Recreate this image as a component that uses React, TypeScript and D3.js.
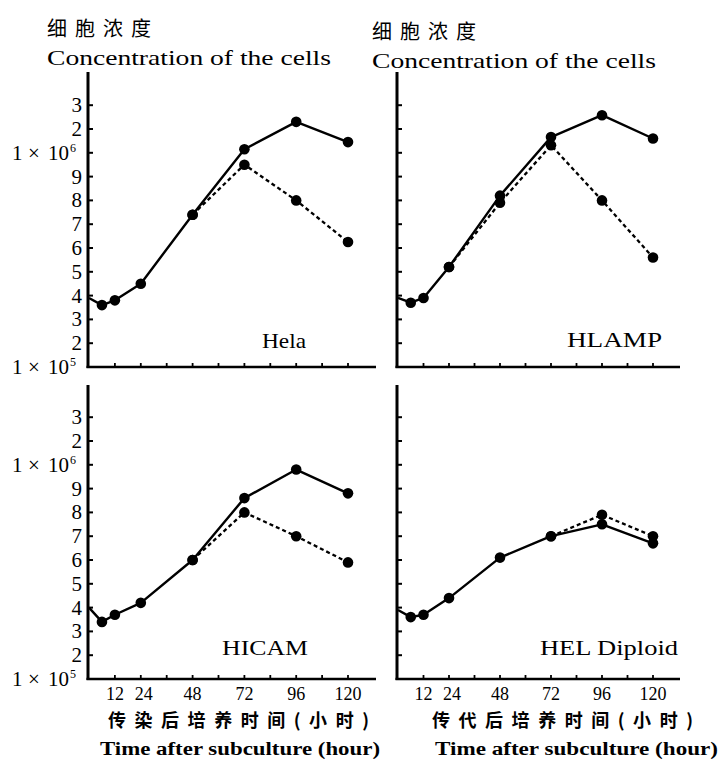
import React, { useEffect, useRef } from "react";
import * as d3 from "d3";

// sampling times, hours after subculture
const hours = [0, 6, 12, 24, 48, 72, 96, 120];

// cell concentration (solid curve, dashed curve; null = dashed runs with solid)
const helaSolid = [3.9e5, 3.6e5, 3.8e5, 4.5e5, 7.4e5, 1.15e6, 2.3e6, 1.45e6];
const helaDashed = [null, null, null, null, 7.4e5, 9.5e5, 8.0e5, 6.25e5];
const hlampSolid = [3.9e5, 3.7e5, 3.9e5, 5.2e5, 8.2e5, 1.66e6, 2.58e6, 1.6e6];
const hlampDashed = [null, null, null, 5.2e5, 7.9e5, 1.32e6, 8.0e5, 5.6e5];
const hicamSolid = [4.0e5, 3.4e5, 3.7e5, 4.2e5, 6.0e5, 8.6e5, 9.8e5, 8.8e5];
const hicamDashed = [null, null, null, null, 6.0e5, 8.0e5, 7.0e5, 5.9e5];
const helSolid = [3.9e5, 3.6e5, 3.7e5, 4.4e5, 6.1e5, 7.0e5, 7.5e5, 6.7e5];
const helDashed = [null, null, null, null, null, 7.0e5, 7.9e5, 7.0e5];

const panelNames = ["Hela", "HLAMP", "HICAM", "HEL Diploid"];

// the printed y axis has evenly spaced ticks
const yTicks = [1e5, 2e5, 3e5, 4e5, 5e5, 6e5, 7e5, 8e5, 9e5, 1e6, 2e6, 3e6];
const yTickLabels = ["1 × 10|5", "2", "3", "4", "5", "6", "7", "8", "9", "1 × 10|6", "2", "3"];

const xTicks = [12, 24, 36, 48, 60, 72, 84, 96, 108, 120];
const xTickLabels = [12, 24, 48, 72, 96, 120];

const yTitleCn = "细胞浓度";
const yTitleEn = "Concentration of the cells";
const xTitleCn = ["传染后培养时间(小时)", "传代后培养时间(小时)"];
const xTitleEn = "Time after subculture (hour)";

const W = 721;
const H = 760;
const serif = "'Liberation Serif', 'Times New Roman', serif";
const cjk = "'Noto Sans CJK SC', sans-serif";

const App = () => {
  const svgRef = useRef(null);

  useEffect(() => {
    const svg = d3.select(svgRef.current);
    svg.selectAll("*").remove();

    const solid = [helaSolid, hlampSolid, hicamSolid, helSolid];
    const dashed = [helaDashed, hlampDashed, hicamDashed, helDashed];

    // layout of the 2 x 2 grid
    const colRange = [
      [89, 348],
      [398, 653],
    ];
    const colAxisEnd = [376, 680];
    const rowBottom = [367, 679];
    const rowTop = [72, 385];
    const step = 23.8;
    const labelPos = [
      { x: 262, y: 348, w: 44 },
      { x: 567, y: 347, w: 95 },
      { x: 222, y: 655, w: 86 },
      { x: 540, y: 655, w: 138 },
    ];

    const yIndex = d3
      .scaleLinear()
      .domain(yTicks)
      .range(d3.range(yTicks.length));

    panelNames.forEach((name, p) => {
      const col = p % 2;
      const row = Math.floor(p / 2);

      const xScale = d3.scaleLinear().domain([0, 120]).range(colRange[col]);
      const yPos = d3
        .scaleLinear()
        .domain([0, yTicks.length - 1])
        .range([rowBottom[row], rowBottom[row] - step * (yTicks.length - 1)]);
      const yScale = (v) => yPos(yIndex(v));

      const g = svg.append("g");
      const x0 = xScale(0) - 1;

      // y axis line + inward ticks
      g.append("line")
        .attr("x1", x0)
        .attr("x2", x0)
        .attr("y1", rowTop[row])
        .attr("y2", rowBottom[row] + 1)
        .attr("stroke", "#000")
        .attr("stroke-width", 3);
      g.selectAll(".ytick")
        .data(yTicks.slice(1))
        .enter()
        .append("line")
        .attr("x1", x0)
        .attr("x2", x0 + 5)
        .attr("y1", (d) => yScale(d))
        .attr("y2", (d) => yScale(d))
        .attr("stroke", "#000")
        .attr("stroke-width", 2);

      // x axis line + upward ticks
      g.append("line")
        .attr("x1", x0 - 1.5)
        .attr("x2", colAxisEnd[col])
        .attr("y1", rowBottom[row])
        .attr("y2", rowBottom[row])
        .attr("stroke", "#000")
        .attr("stroke-width", 2.6);
      g.selectAll(".xtick")
        .data(xTicks)
        .enter()
        .append("line")
        .attr("x1", (d) => xScale(d))
        .attr("x2", (d) => xScale(d))
        .attr("y1", rowBottom[row])
        .attr("y2", rowBottom[row] - 4)
        .attr("stroke", "#000")
        .attr("stroke-width", 1.8);

      // y tick labels on the left column only
      if (col === 0) {
        yTickLabels.forEach((lab, i) => {
          const y = yScale(yTicks[i]) + 7;
          if (lab.includes("|")) {
            const [base, sup] = lab.split("|");
            const parts = base.split(" ");
            const t = g
              .append("text")
              .attr("y", y)
              .attr("font-family", serif)
              .attr("font-size", 21);
            t.append("tspan").attr("x", 12).text(parts[0]);
            t.append("tspan").attr("x", 28).text(parts[1]);
            t.append("tspan").attr("x", 48).text(parts[2]);
            t.append("tspan")
              .attr("x", 70)
              .attr("dy", -8)
              .attr("font-size", 12)
              .text(sup);
          } else {
            g.append("text")
              .attr("x", 82)
              .attr("y", y)
              .attr("text-anchor", "end")
              .attr("font-family", serif)
              .attr("font-size", 21)
              .text(lab);
          }
        });
      }

      // x tick labels on the bottom row
      if (row === 1) {
        g.selectAll(".xlab")
          .data(xTickLabels)
          .enter()
          .append("text")
          .attr("x", (d) => xScale(d) + (d === 24 ? 3 : 0))
          .attr("y", rowBottom[row] + 21)
          .attr("text-anchor", "middle")
          .attr("font-family", serif)
          .attr("font-size", 18)
          .text((d) => d);
      }

      // curves
      const line = d3
        .line()
        .defined((d) => d[1] != null)
        .x((d) => xScale(d[0]))
        .y((d) => yScale(d[1]));

      const solidPts = hours.map((h, i) => [h, solid[p][i]]);
      const dashedPts = hours.map((h, i) => [h, dashed[p][i]]);

      g.append("path")
        .attr("d", line(dashedPts))
        .attr("fill", "none")
        .attr("stroke", "#000")
        .attr("stroke-width", 2.3)
        .attr("stroke-dasharray", "4 3");
      g.append("path")
        .attr("d", line(solidPts))
        .attr("fill", "none")
        .attr("stroke", "#000")
        .attr("stroke-width", 2.4)
        .attr("stroke-linejoin", "round");

      const dots = solidPts
        .concat(dashedPts)
        .filter((d) => d[1] != null && d[0] > 0);
      g.selectAll(".dot")
        .data(dots)
        .enter()
        .append("circle")
        .attr("cx", (d) => xScale(d[0]))
        .attr("cy", (d) => yScale(d[1]))
        .attr("r", 5.3)
        .attr("fill", "#000");

      // panel name
      g.append("text")
        .attr("x", labelPos[p].x)
        .attr("y", labelPos[p].y)
        .attr("font-family", serif)
        .attr("font-size", 22)
        .attr("textLength", labelPos[p].w)
        .attr("lengthAdjust", "spacingAndGlyphs")
        .text(name);
    });

    // titles above each column
    [
      { x: 47, y: 36 },
      { x: 372, y: 39 },
    ].forEach((pos) => {
      svg
        .append("text")
        .attr("x", pos.x)
        .attr("y", pos.y)
        .attr("font-family", cjk)
        .attr("font-size", 20)
        .attr("textLength", 104)
        .text(yTitleCn);
      svg
        .append("text")
        .attr("x", pos.x)
        .attr("y", pos.y + 29)
        .attr("font-family", serif)
        .attr("font-size", 21)
        .attr("textLength", 284)
        .attr("lengthAdjust", "spacingAndGlyphs")
        .text(yTitleEn);
    });

    // axis titles below each column
    [108, 432].forEach((x, c) => {
      svg
        .append("text")
        .attr("x", x)
        .attr("y", 727)
        .attr("font-family", cjk)
        .attr("font-weight", 700)
        .attr("font-size", 18)
        .attr("textLength", 261)
        .text(xTitleCn[c]);
      svg
        .append("text")
        .attr("x", c === 0 ? 100 : 435)
        .attr("y", 755)
        .attr("font-family", serif)
        .attr("font-weight", 700)
        .attr("font-size", 18)
        .attr("textLength", c === 0 ? 280 : 283)
        .attr("lengthAdjust", "spacingAndGlyphs")
        .text(xTitleEn);
    });
  }, []);

  return (
    <svg
      ref={svgRef}
      width={W}
      height={H}
      style={{ position: "absolute", left: 0, top: 0, background: "#fff" }}
    ></svg>
  );
};

export default App;
